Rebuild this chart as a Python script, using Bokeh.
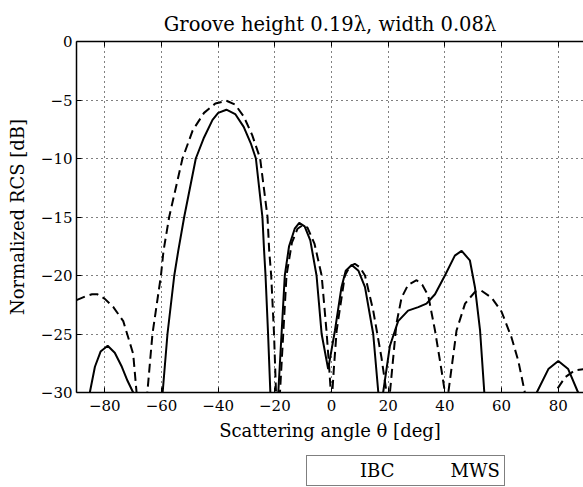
from bokeh.plotting import figure
from bokeh.models import Range1d, FixedTicker, LinearAxis, Legend, LegendItem
from bokeh.layouts import column
from bokeh.embed import file_html
from bokeh.resources import INLINE

# Data
ibc_x = [-88, -85.3, -83.5, -81.5, -79, -76.5, -74, -72, -70, -69,
         -61, -59.6, -57.9, -55.5, -54.1, -52, -47.9, -45, -42, -40, -37.1, -34, -31, -28.5, -26.7, -24.4, -23.8, -23.3, -22.4, -21.6, -21,
         -19.5, -18.8, -16.5, -15, -13, -11.4, -9.5, -7.5, -5.3, -3.5, -1.2, 1.2, 3.5, 5, 7.1, 9.5, 11.8, 14.7, 16.5, 17.3,
         18.2, 20.6, 23.5, 27, 30.6, 33.5, 36.5, 40, 43.5, 45.9, 48.8, 50.6, 52.4, 53.9, 54.5,
         71.5, 72.4, 76.5, 80, 83.5, 87, 88]
ibc_y = [-34, -30, -27.8, -26.5, -26.0, -26.6, -27.8, -29.0, -30, -33,
         -34, -30, -25, -20, -17.9, -15, -10, -8.2, -6.7, -6.1, -5.83, -6.2, -7.3, -8.7, -10, -15, -17.9, -20, -25, -30, -34,
         -34, -30, -20, -17.5, -16, -15.5, -15.8, -17, -20, -25, -28.0, -24.7, -21, -19.6, -19.1, -19.6, -21, -25, -30, -33,
         -30, -26, -23.9, -23.0, -22.7, -22.4, -21.6, -20, -18.3, -17.9, -18.7, -21, -24.7, -30, -34,
         -34, -30, -28, -27.3, -28, -30, -33]

mws_x = [-90, -87, -84.5, -82.7, -80, -77, -73.5, -70, -68.8, -68,
         -66, -65, -63.2, -60.2, -59.3, -57.3, -52.6, -49, -45, -41, -37.1, -34, -31, -28, -25.2, -22.6, -22, -21.3, -20.3, -19.6, -19,
         -18.8, -18.2, -15.9, -14, -12, -10.2, -8.5, -6, -3.5, -1.8, -0.8, 0, 0.8, 1.8, 4.7, 6.5, 8.2, 10, 11.8, 14.7, 17.6, 19.4, 20,
         20.6, 22.9, 24.7, 27, 30, 32, 34.1, 36.5, 38.8, 40, 40.6,
         41.2, 44.1, 47.1, 50.6, 52.9, 56.5, 60, 63.5, 65.9, 68.2, 69,
         78, 78.8, 82.4, 85.9, 89.5]
mws_y = [-22.1, -21.8, -21.6, -21.6, -22.0, -22.7, -23.9, -26.7, -30, -34,
         -34, -30, -25, -20, -17.9, -15, -10, -7.6, -6.1, -5.3, -5.06, -5.4, -6.4, -8, -10, -15, -17.9, -20, -25, -30, -34,
         -34, -30, -20, -17.2, -16, -15.7, -15.9, -17.3, -20, -24.7, -28, -31, -28, -24.7, -20, -19.2, -19.0, -19.3, -20, -23, -27, -30, -33,
         -30, -24.1, -21.9, -20.8, -20.4, -20.8, -21.7, -24.7, -28.1, -30, -33,
         -30, -24.7, -22.4, -21.4, -21.3, -21.9, -23.1, -25.3, -27.3, -30, -34,
         -34, -30, -28.7, -28.1, -28.0]

x_ticks = [-80, -60, -40, -20, 0, 20, 40, 60, 80]
y_ticks = [-30, -25, -20, -15, -10, -5, 0]
series_labels = ["IBC", "MWS"]

FONT = "DejaVu Serif"

def lab(v):
    return ("\u2212" + str(abs(v))) if v < 0 else str(v)

p = figure(frame_width=507, frame_height=351, output_backend="svg", toolbar_location=None,
           x_range=Range1d(-90, 88.9), y_range=Range1d(-30, 0),
           title="Groove height 0.19\u03bb, width 0.08\u03bb",
           min_border_left=76, min_border_right=0, min_border_top=41, min_border_bottom=0)
p.title.text_font = FONT
p.title.text_font_size = "19.5px"
p.title.text_font_style = "normal"
p.title.text_color = "black"
p.title.align = "center"
p.title.offset = 0
p.title.standoff = 12
p.outline_line_color = None
p.background_fill_color = "white"
p.border_fill_color = "white"

for ax in p.xaxis + p.yaxis:
    ax.major_label_text_font = FONT
    ax.major_label_text_font_size = "15px"
    ax.axis_label_text_font = FONT
    ax.axis_label_text_font_size = "18px"
    ax.axis_label_text_font_style = "normal"
    ax.major_tick_in = 5
    ax.major_tick_out = 0
    ax.minor_tick_line_color = None
    ax.axis_line_color = "black"
    ax.axis_line_width = 1.5
    ax.major_tick_line_color = "black"
    ax.major_label_text_color = "black"
    ax.axis_label_text_color = "black"

p.xaxis.ticker = FixedTicker(ticks=x_ticks)
p.yaxis.ticker = FixedTicker(ticks=y_ticks)
p.xaxis.major_label_overrides = {t: lab(t) for t in x_ticks}
p.yaxis.major_label_overrides = {t: lab(t) for t in y_ticks}
p.xaxis.axis_label = "Scattering angle \u03b8 [deg]"
p.yaxis.axis_label = "Normalized RCS [dB]"
p.xaxis.major_label_standoff = 7
p.yaxis.major_label_standoff = 4
p.xaxis.axis_label_standoff = 6
p.yaxis.axis_label_standoff = 10

top = LinearAxis(ticker=FixedTicker(ticks=x_ticks), major_label_text_font_size="1px",
                 major_label_text_alpha=0.0,
                 major_tick_in=5, major_tick_out=0, minor_tick_line_color=None,
                 axis_line_width=1.5, major_label_standoff=0)
p.add_layout(top, "above")

p.grid.grid_line_color = "black"
p.grid.grid_line_dash = "1 4"
p.grid.grid_line_width = 1
p.xgrid.ticker = FixedTicker(ticks=x_ticks)
p.ygrid.ticker = FixedTicker(ticks=y_ticks)

p.line(ibc_x, ibc_y, line_color="black", line_width=2)
p.line(mws_x, mws_y, line_color="black", line_width=2, line_dash="9 5")

# Legend strip below the plot (its own small figure, legend inside its frame)
p2 = figure(width=583, height=44, output_backend="svg", toolbar_location=None,
            x_range=Range1d(0, 1), y_range=Range1d(0, 1),
            x_axis_type=None, y_axis_type=None,
            min_border_left=0, min_border_right=0, min_border_top=0, min_border_bottom=0)
p2.grid.visible = False
p2.outline_line_color = None
p2.background_fill_color = "white"
p2.border_fill_color = "white"
g1 = p2.line([], [], line_color="black", line_width=2)
g2 = p2.line([], [], line_color="black", line_width=2, line_dash="9 5")

legend = Legend(items=[LegendItem(label=series_labels[0], renderers=[g1]),
                       LegendItem(label=series_labels[1], renderers=[g2])],
                orientation="horizontal", location=(230, 1),
                label_text_font=FONT, label_text_font_size="18px", label_text_color="black",
                border_line_color="black", border_line_width=1.5,
                background_fill_color="white", background_fill_alpha=1.0,
                glyph_width=43, label_standoff=6, spacing=7, padding=4, margin=0)
p2.add_layout(legend, "center")

layout = column(p, p2, spacing=0)
open("out.html", "w").write(file_html(layout, INLINE))
